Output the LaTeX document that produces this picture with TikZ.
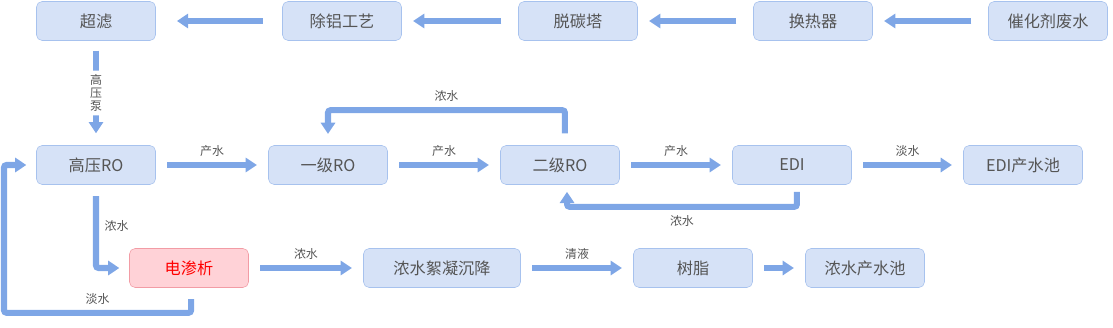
\documentclass[tikz,border=0pt]{standalone}
\usepackage{fontspec}
\setmainfont{Noto Sans CJK SC}
\usetikzlibrary{arrows.meta, positioning}
\definecolor{boxfill}{HTML}{D6E2F7}
\definecolor{boxline}{HTML}{A7C2EE}
\definecolor{flowblue}{HTML}{7EA6E6}
\definecolor{redfill}{HTML}{FFD2D7}
\definecolor{redline}{HTML}{F29CA5}
\definecolor{txtgray}{HTML}{555555}
\tikzstyle{unit}=[draw=boxline, fill=boxfill, rounded corners=4pt, inner sep=0pt,
  minimum width=2.975cm, minimum height=0.975cm, text=txtgray, font=\fontsize{11.5}{13}\selectfont]
\tikzstyle{hot}=[unit, draw=redline, fill=redfill, text=red]
\tikzstyle{flow}=[-{Triangle[length=8pt,width=10pt]}, line width=4.3pt, color=flowblue,
  rounded corners=1.8pt, shorten <=8pt, shorten >=8pt]
\tikzstyle{lbl}=[text=txtgray, font=\fontsize{8.5}{10}\selectfont, inner sep=1pt]

\begin{document}
\begin{tikzpicture}[x=0.025cm, y=-0.025cm]
  \useasboundingbox (0,0) rectangle (1113,328);

  % Pretreatment line
  \node[unit] (uf)   at (96,21)   {超滤};
  \node[unit] (al)   at (342,21)  {除铝工艺};
  \node[unit] (dc)   at (578,21)  {脱碳塔};
  \node[unit] (hx)   at (813,21)  {换热器};
  \node[unit] (feed) at (1048,21) {催化剂废水};

  % RO line
  \node[unit] (hp)   at (96,165)  {高压RO};
  \node[unit] (ro1)  at (328,165) {一级RO};
  \node[unit] (ro2)  at (560,165) {二级RO};
  \node[unit] (edi)  at (792,165) {EDI};
  \node[unit] (tank) at (1023,165) {EDI产水池};

  % Brine line
  \node[hot] (ed) at (189,268) {电渗析};
  \node[unit, minimum width=3.925cm] (floc) at (442,268) {浓水絮凝沉降};
  \node[unit] (resin) at (693,268) {树脂};
  \node[unit] (brine) at (865,268) {浓水产水池};

  \coordinate (loop) at (4,165);

  % Arrows, top row
  \draw[flow, shorten <=12pt, shorten >=8pt] (feed) -- (hx);
  \draw[flow, shorten <=12pt, shorten >=8pt] (hx) -- (dc);
  \draw[flow, shorten <=12pt, shorten >=8pt] (dc) -- (al);
  \draw[flow, shorten <=14pt, shorten >=15pt] (al) -- (uf);
  \draw[flow, shorten <=7pt, shorten >=8.5pt] (uf) -- node[lbl, fill=white, align=center,
    inner ysep=3pt, font=\fontsize{8.5}{9}\selectfont] {高\\压\\泵} (hp);

  % Arrows, RO row
  \draw[flow] (hp) -- node[lbl, above=3pt] {产水} (ro1);
  \draw[flow] (ro1) -- node[lbl, above=3pt] {产水} (ro2);
  \draw[flow] (ro2) -- node[lbl, above=3pt] {产水} (edi);
  \draw[flow] (edi) -- node[lbl, above=3pt] {淡水} (tank);

  % Recycle loops
  \draw[flow, shorten <=8.5pt] ([xshift=3.5pt]ro2.north) -- ++(0,-35)
    -| node[lbl, above=3pt, pos=0.25] {浓水} (ro1.north);
  \draw[flow, shorten <=5pt, shorten >=5pt] ([xshift=3.5pt]edi.south) -- ++(0,22)
    -| node[lbl, below=3pt, pos=0.25] {浓水} ([xshift=5pt]ro2.south);
  \draw[flow, shorten >=7pt] (hp.south) |- node[lbl, right=3pt, pos=0.25] {浓水} (ed.west);
  \draw[flow, shorten >=7pt] ([xshift=1.5pt]ed.south) -- ++(0,25)
    -| node[lbl, above=3pt, pos=0.25] {淡水} (loop) -- (hp.west);

  % Arrows, brine row
  \draw[flow] (ed) -- node[lbl, above=3pt] {浓水} (floc);
  \draw[flow] (floc) -- node[lbl, above=3pt] {清液} (resin);
  \draw[flow] (resin) -- (brine);
\end{tikzpicture}
\end{document}
